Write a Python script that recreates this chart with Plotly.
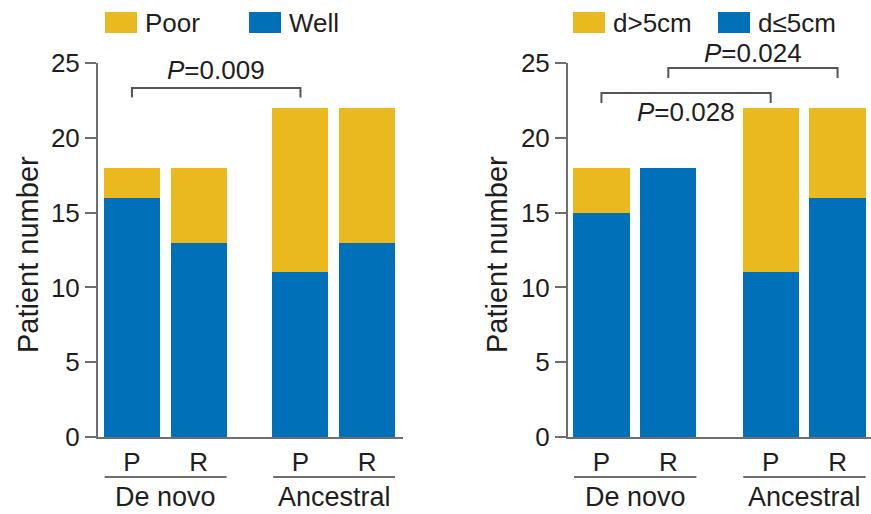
import plotly.graph_objects as go

# --- data -------------------------------------------------------------
groups = ["De novo", "Ancestral"]
samples = ["P", "R", "P", "R"]
positions = [0, 1, 2.53, 3.53]

# left panel: differentiation
well = [16, 13, 11, 13]
poor = [2, 5, 11, 9]

# right panel: tumour diameter
small_d = [15, 18, 11, 16]   # d<=5cm
large_d = [3, 0, 11, 6]      # d>5cm

p_left = [("0.009", 0, 2)]                      # (value, bar i, bar j)
p_right = [("0.024", 1, 3), ("0.028", 0, 2)]

# --- style ------------------------------------------------------------
W, H = 871, 514
M_T, M_B = 63, 77
Y_MAX = 25
BLUE = "#0070B8"
YELLOW = "#E9B91F"
AXIS = "#6E6E6E"
TXT = "#1E1E1E"
FONT = "Liberation Sans, Arial, sans-serif"
BAR_W = 0.84


def px(x):
    return x / W


def py(y):
    return (H - M_B - y) / (H - M_T - M_B)


fig = go.Figure()

panels = [
    dict(xa="x", ya="y", lower=well, upper=poor, names=("Well", "Poor")),
    dict(xa="x2", ya="y2", lower=small_d, upper=large_d, names=("d≤5cm", "d>5cm")),
]
for p in panels:
    fig.add_trace(go.Bar(x=positions, y=p["lower"], name=p["names"][0],
                         marker=dict(color=BLUE, line=dict(width=0)),
                         width=BAR_W, xaxis=p["xa"], yaxis=p["ya"], showlegend=False))
    fig.add_trace(go.Bar(x=positions, y=p["upper"], name=p["names"][1],
                         marker=dict(color=YELLOW, line=dict(width=0)),
                         width=BAR_W, xaxis=p["xa"], yaxis=p["ya"], showlegend=False))

xax = dict(tickvals=positions, ticktext=samples, showline=True, linecolor=AXIS,
           linewidth=2, ticks="", showgrid=False, zeroline=False,
           tickfont=dict(size=26, color=TXT, family=FONT), ticklabelstandoff=1,
           fixedrange=True)
yax = dict(range=[0, Y_MAX], tickvals=[0, 5, 10, 15, 20, 25], showline=True,
           linecolor=AXIS, linewidth=2, ticks="outside", ticklen=11, tickwidth=2,
           tickcolor=AXIS, showgrid=False, zeroline=False,
           tickfont=dict(size=26, color=TXT, family=FONT), fixedrange=True)

fig.update_layout(
    width=W, height=H, barmode="stack",
    margin=dict(l=0, r=0, t=M_T, b=M_B),
    plot_bgcolor="white", paper_bgcolor="white",
    xaxis=dict(xax, domain=[px(98), px(403)], range=[-0.51, 4.07], anchor="y"),
    yaxis=dict(yax, anchor="x"),
    xaxis2=dict(xax, domain=[px(568), 1.0], range=[-0.50, 4.03], anchor="y2"),
    yaxis2=dict(yax, anchor="x2"),
    showlegend=False,
)

# --- group underlines and labels ---------------------------------------
for xa in ("x", "x2"):
    for g, (i, j) in zip(groups, [(0, 1), (2, 3)]):
        x0 = positions[i] - 0.41
        x1 = positions[j] + 0.42
        fig.add_shape(type="line", xref=xa, yref="paper", x0=x0, x1=x1,
                      y0=py(477), y1=py(477), line=dict(color=AXIS, width=2))
        fig.add_annotation(xref=xa, yref="paper", x=(x0 + x1) / 2, y=py(497),
                           xanchor="center", yanchor="middle",
                           text=g, showarrow=False,
                           font=dict(size=27, color=TXT, family=FONT))

# --- significance brackets -------------------------------------------
def bracket(xa, ya, i, j, y_line, y_foot, label, y_text):
    x0, x1 = positions[i], positions[j]
    fig.add_shape(type="path", xref=xa, yref=ya,
                  path=f"M {x0},{y_foot} L {x0},{y_line} L {x1},{y_line} L {x1},{y_foot}",
                  line=dict(color="#555555", width=2))
    # label placed in plot-fraction units so it may sit above the axis top
    fig.add_annotation(xref=xa, yref="paper", x=(x0 + x1) / 2, y=y_text / Y_MAX,
                       xanchor="center", yanchor="middle",
                       text=f"<i>P</i>=" + label, showarrow=False,
                       font=dict(size=26, color=TXT, family=FONT))

val, i, j = p_left[0]
bracket("x", "y", i, j, 23.33, 22.7, val, 24.5)
val, i, j = p_right[0]
bracket("x2", "y2", i, j, 24.67, 24.0, val, 25.67)
val, i, j = p_right[1]
bracket("x2", "y2", i, j, 23.0, 22.33, val, 21.72)

# --- legends ------------------------------------------------------------
def legend_item(x_box, label, color):
    fig.add_shape(type="rect", xref="paper", yref="paper",
                  x0=px(x_box), x1=px(x_box + 32), y0=py(33), y1=py(12),
                  fillcolor=color, line=dict(width=0))
    fig.add_annotation(xref="paper", yref="paper", x=px(x_box + 38), y=py(23),
                       xanchor="left", yanchor="middle", text=label, showarrow=False,
                       font=dict(size=26, color=TXT, family=FONT))

legend_item(105, "Poor", YELLOW)
legend_item(249, "Well", BLUE)
legend_item(573, "d>5cm", YELLOW)
legend_item(718, "d≤5cm", BLUE)

# --- y titles ------------------------------------------------------------
for xpos in (28, 497):
    fig.add_annotation(xref="paper", yref="paper", x=px(xpos), y=py(255),
                       xanchor="center", yanchor="middle",
                       text="Patient number", textangle=-90, showarrow=False,
                       font=dict(size=29, color=TXT, family=FONT))

fig.write_html("out.html")
